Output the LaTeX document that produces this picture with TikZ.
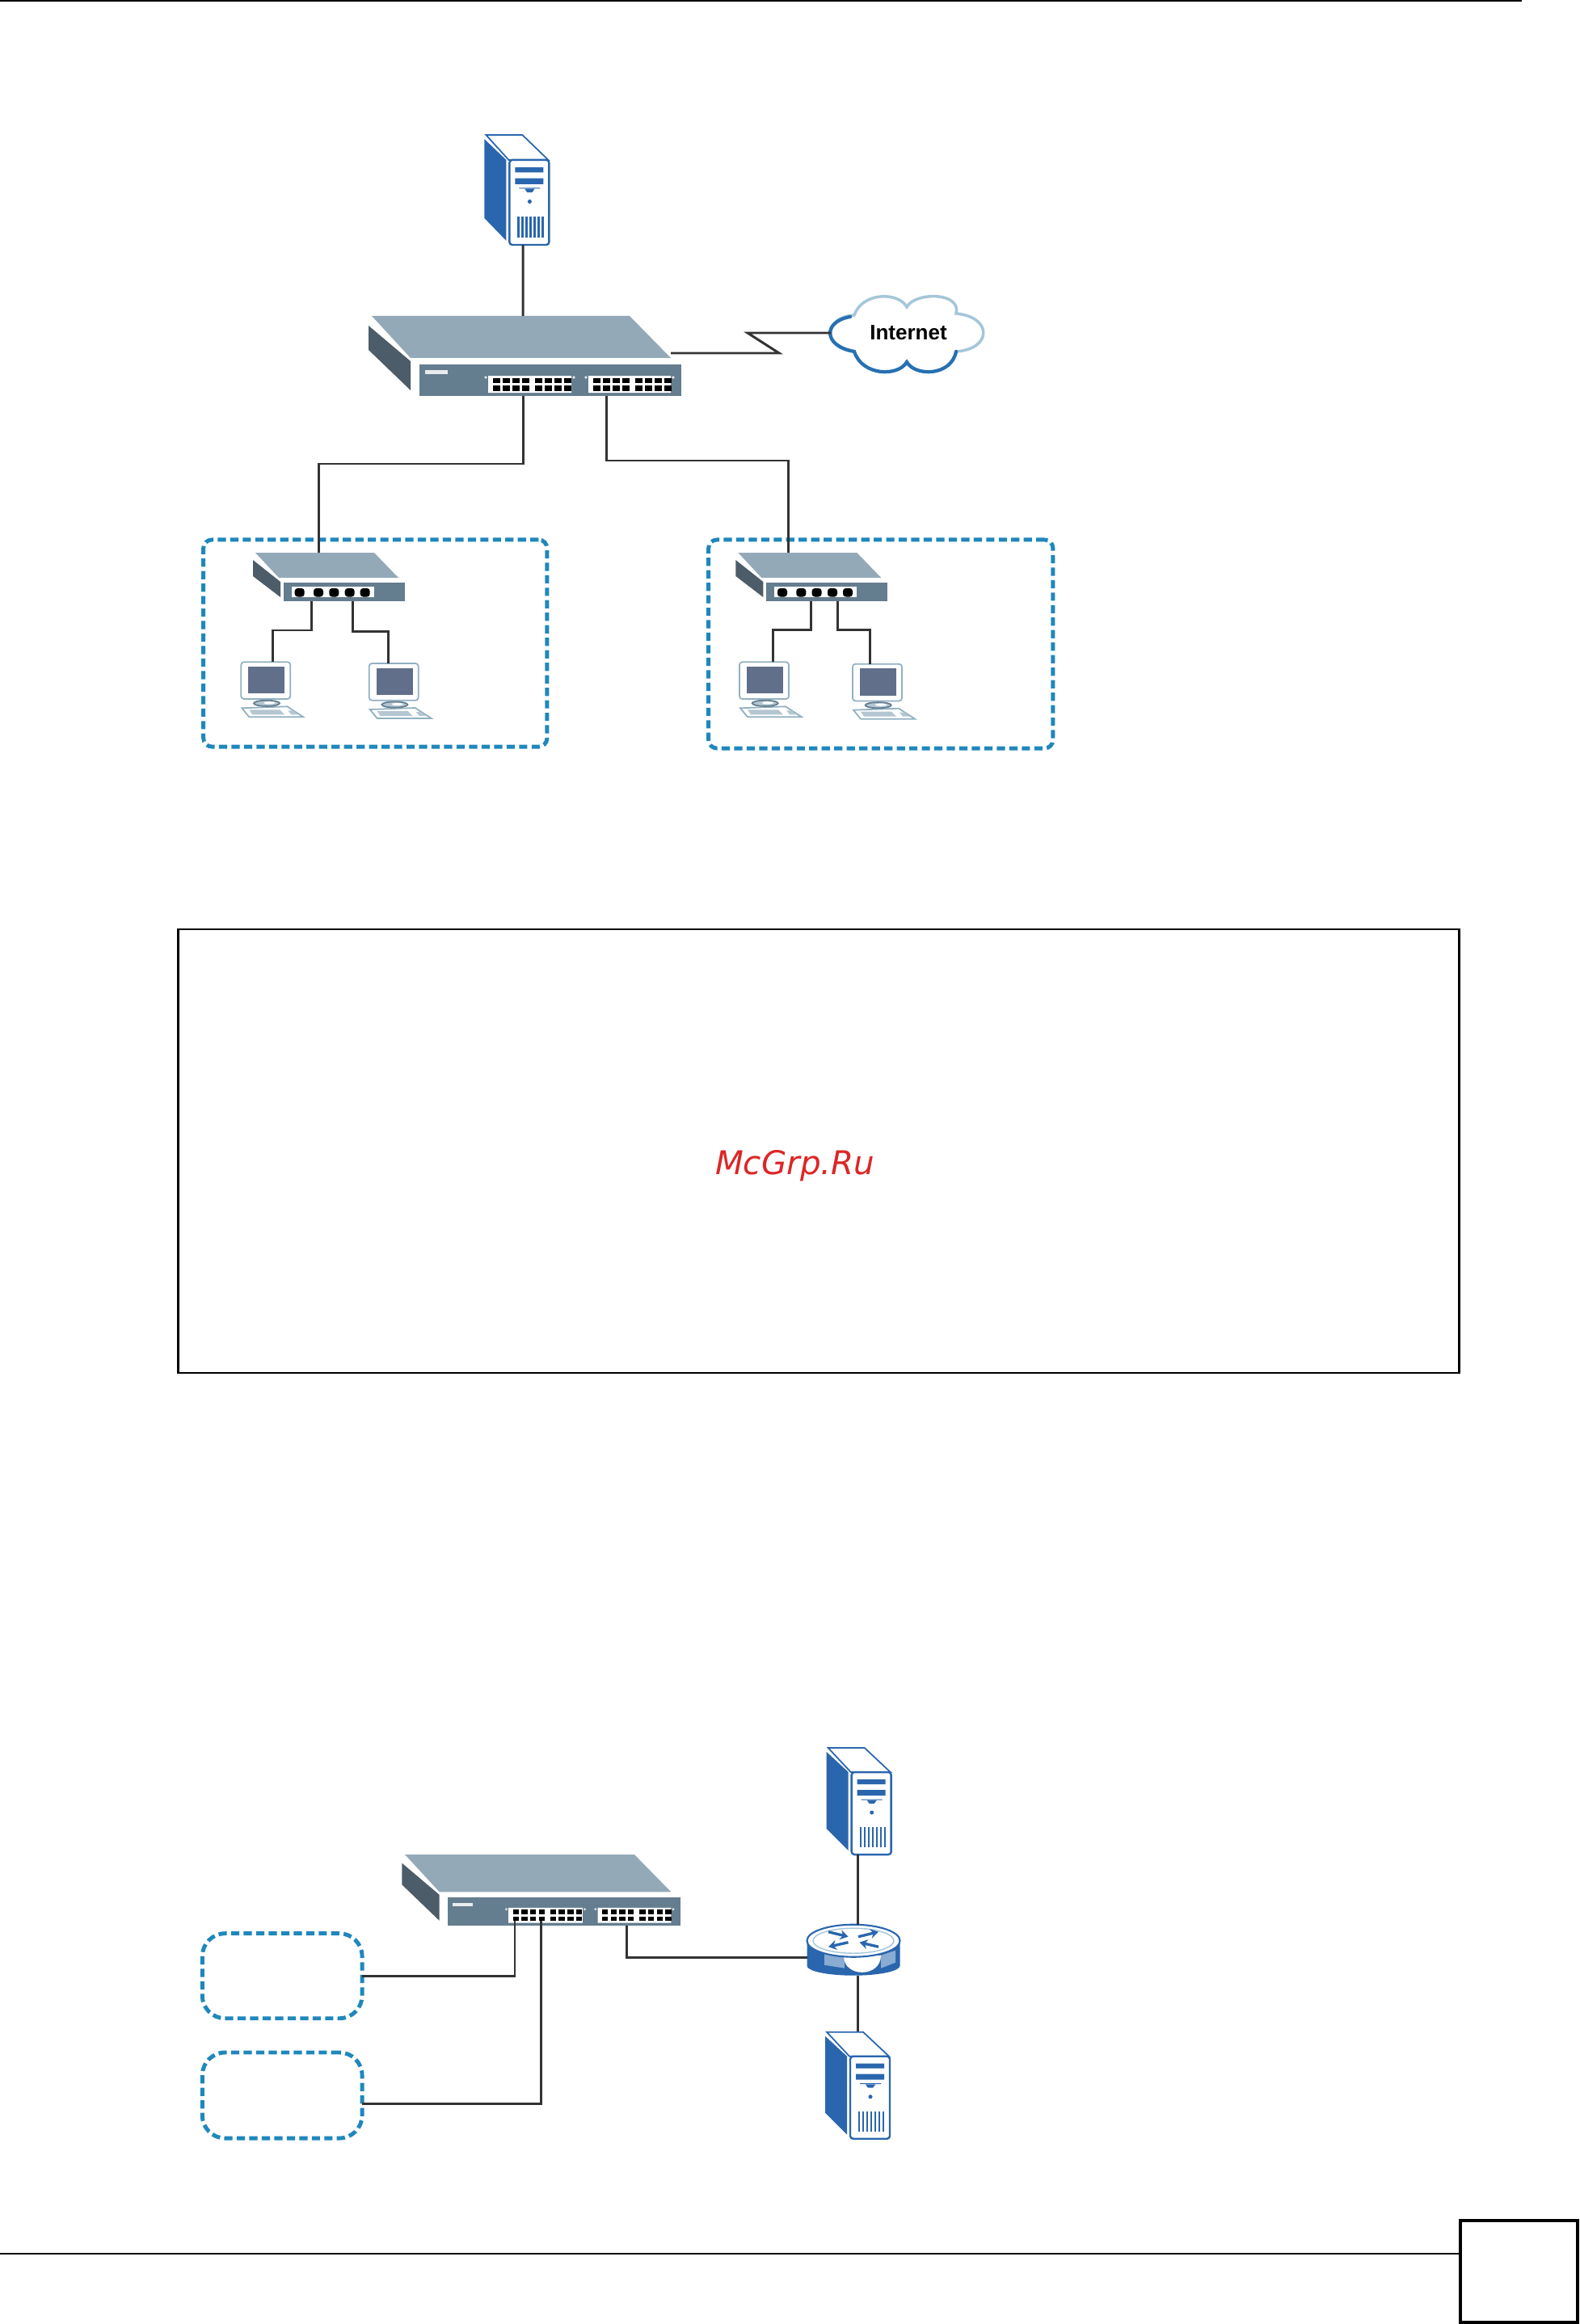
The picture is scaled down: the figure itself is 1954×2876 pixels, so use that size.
\documentclass[tikz,border=0pt]{standalone}
\usepackage{fontspec}
\usetikzlibrary{arrows.meta}
\newfontfamily\inetfont{Liberation Sans}
\newfontfamily\markfont{DejaVu Sans}
\definecolor{srvblue}{HTML}{2A66AE}
\definecolor{dashblue}{HTML}{1F87BC}
\definecolor{plategray}{HTML}{93A9B8}
\definecolor{sidegray}{HTML}{4C5C68}
\definecolor{frontgray}{HTML}{647D8F}
\definecolor{screengray}{HTML}{616F8A}
\definecolor{keygray}{HTML}{B4C6D2}
\definecolor{cablegray}{HTML}{333333}
\definecolor{cloudlight}{HTML}{A4C6D8}
\definecolor{markred}{HTML}{DC2626}
\begin{document}
\begin{tikzpicture}[x=0.01cm,y=-0.01cm,inner sep=0pt,outer sep=0pt,
cable/.style={draw=cablegray,line width=0.85pt},
lanbox/.style={draw=dashblue,rectangle,line width=1.4pt,dash pattern=on 2.9pt off 1.5pt},
rulebox/.style={draw=black,rectangle,line width=0.6pt},
pics/server/.style={code={
  \coordinate (-b) at (#1,0);
  \coordinate (-t) at (#1,-133);
  \fill[srvblue] (0,-127) -- (27,-102) -- (27,-5) -- (0,-32) -- cycle;
  \draw[srvblue,line width=0.5pt,fill=white] (2,-132) -- (47,-132) -- (79,-102) -- (30,-102) -- cycle;
  \draw[srvblue,line width=0.7pt,fill=white,rounded corners=1pt] (31,-102) rectangle (80,0);
  \fill[srvblue] (38,-93) rectangle (73,-87) (38,-80) rectangle (73,-73);
  \fill[srvblue] (43,-68.5) rectangle (69,-67.5) (50,-67) -- (62,-67) -- (59,-63) -- (53,-63) -- cycle;
  \fill[srvblue] (56,-52) circle [radius=2.5];
  \foreach \k in {0,...,6} {\fill[srvblue] (41+\k*5,-34) rectangle (43.2+\k*5,-9);}
}},
pics/bigsw/.style n args={5}{code={
  \coordinate (-t) at (#1,0);
  \coordinate (-a) at (#2,#5);
  \coordinate (-b) at (#3,#5);
  \coordinate (-c) at (#4,99);
  \coordinate (-e) at (370,46);
  \fill[plategray] (0,0) -- (319,0) -- (370,52) -- (48,52) -- cycle;
  \fill[sidegray] (-4,12) -- (48,56) -- (48,92) -- (-4,42) -- cycle;
  \fill[frontgray] (59,60) rectangle (383,99);
  \fill[white!85!frontgray] (66,67) rectangle (94,72);
  \fill[white] (144,74) rectangle (247,95) (268,74) rectangle (370,95);
  \foreach \c in {141,250,265,373} {\fill[white!80!frontgray] (\c,76) circle [radius=1.8];}
  \foreach \i in {0,...,7} {
    \pgfmathsetmacro{\px}{\i*12+(\i>3?4:0)}
    \foreach \o in {150,274} {
      \fill[black] (\o+\px,76.5) rectangle +(8.5,6.5);
      \fill[black] (\o+\px,86) rectangle +(8.5,6.5);
    }
  }
}},
pics/smallsw/.style n args={3}{code={
  \coordinate (-t) at (#1,0);
  \coordinate (-l) at (#2,60);
  \coordinate (-r) at (#3,60);
  \fill[plategray] (0,0) -- (147,0) -- (177,31) -- (29,31) -- cycle;
  \fill[sidegray] (-3,9) -- (31,36) -- (31,55) -- (-3,29) -- cycle;
  \fill[frontgray] (35,37) rectangle (185,60);
  \fill[white] (45,42) rectangle (147,55);
  \foreach \c in {54.7,78,97.3,116.7,135.7} {
    \fill[black,rounded corners=1pt] (\c-6,44) rectangle (\c+6,54.5);
  }
}},
pics/pcset/.style={code={
  \coordinate (-t) at (#1,0);
  \draw[cloudlight!70!frontgray,line width=0.5pt,fill=white,rounded corners=1pt] (0,0) rectangle (61,45.7);
  \fill[screengray] (9,5.7) rectangle (54,39);
  \draw[cloudlight!70!frontgray,line width=0.5pt,fill=white] (1,57) -- (57,55) -- (77,68) -- (10,68) -- cycle;
  \fill[keygray] (10,59) -- (48,59) -- (54,65) -- (14,65) -- cycle;
  \fill[keygray] (58,60) -- (65,60) -- (70,65) -- (62,65) -- cycle;
  \draw[frontgray,line width=0.5pt,fill=keygray] (31.7,51) ellipse [x radius=16,y radius=3.6];
  \fill[white] (35,50.5) ellipse [x radius=7,y radius=1.6];
}},
pics/routerdev/.style={code={
  \coordinate (-t) at (5.7,-20);
  \coordinate (-b) at (5.7,43);
  \coordinate (-w) at (-57.5,21);
  \fill[srvblue] (-57.5,0) -- (-57.5,31) arc [start angle=180,end angle=0,x radius=57.5,y radius=12] -- (57.5,0) -- cycle;
  \fill[srvblue!55!white] (-36,16) -- (-11,19) -- (-11,34) -- (-36,30) -- cycle;
  \fill[srvblue!55!white] (34,18) -- (52,12) -- (52,27) -- (34,34) -- cycle;
  \fill[white] (-12,19) .. controls (-12,46) and (34,46) .. (34,18) -- cycle;
  \draw[srvblue,line width=0.6pt,fill=white] (0,0) ellipse [x radius=57.5,y radius=20];
  \draw[cloudlight,line width=0.4pt] (0,0) ellipse [x radius=50,y radius=15.5];
  \foreach \sx/\sy/\ex/\ey in {-31/-11/-6.5/-5,-6.5/2/-31/7.5,6/-5/31/-11,31/7.5/7.5/2} {
    \draw[srvblue,line width=0.95pt,-{Stealth[length=2.8pt,width=3.4pt]}] (\sx,\sy) -- (\ex,\ey);
  }
}},
pics/inetcloud/.style={code={
  \coordinate (-w) at (-94,0);
  \draw[cloudlight,line width=1pt,fill=white] (-65,23) .. controls (-104,20) and (-104,-20) .. (-65,-22)
    .. controls (-55,-51) and (-10,-51) .. (0,-32) .. controls (10,-51) and (68,-51) .. (61,-24)
    .. controls (106,-20) and (106,20) .. (61,23) .. controls (55,54) and (10,54) .. (0,36)
    .. controls (-10,54) and (-55,54) .. (-65,23) -- cycle;
  \draw[srvblue!70!dashblue,line width=1.2pt,line cap=round] (-70,-20) .. controls (-104,-14) and (-104,16) .. (-65,23)
    .. controls (-55,54) and (-10,54) .. (0,36) .. controls (10,54) and (55,54) .. (61,23);
}}]
\useasboundingbox (0,0) rectangle (1954,2876);
%upper network
\node[lanbox,rounded corners=3pt,minimum width=4.25cm,minimum height=2.56cm] (lanA) at (464.3,796) {};
\node[lanbox,rounded corners=3pt,minimum width=4.26cm,minimum height=2.58cm] (lanB) at (1089.8,797) {};
\pic[yscale=1.03] (srvA) at (599.4,303) {server=47.6};
\pic (swA) at (460,391) {bigsw={187}{187}{290.5}{0}{99}};
\pic (inet) at (1122,412) {inetcloud};
\node[font=\inetfont\bfseries\fontsize{7.4pt}{9pt}\selectfont] (inetlabel) at (1124,412) {Internet};
\pic (ssA) at (316,684) {smallsw={78}{69.7}{120.7}};
\pic (ssB) at (913.3,684) {smallsw={61.7}{90}{123.4}};
\pic (pcA) at (298.3,819.3) {pcset=39};
\pic (pcB) at (456.7,821) {pcset=24};
\pic (pcC) at (915,819.3) {pcset=41.7};
\pic (pcD) at (1055,821.7) {pcset=21.7};
\coordinate (trunkA) at (0,574);
\coordinate (trunkB) at (0,570);
\coordinate (kinkA) at (964,437);
\coordinate (kinkB) at (925,412);
\coordinate (tapA) at (0,780);
\coordinate (tapB) at (0,781.7);
\coordinate (tapC) at (0,779.3);
\draw[cable] (srvA-b) -- (swA-t);
\draw[cable] (swA-e) -- (kinkA) -- (kinkB) -- (inet-w);
\draw[cable] (swA-a) -- (swA-a |- trunkA) -- (ssA-t |- trunkA) -- (ssA-t);
\draw[cable] (swA-b) -- (swA-b |- trunkB) -- (ssB-t |- trunkB) -- (ssB-t);
\draw[cable] (ssA-l) -- (ssA-l |- tapA) -- (pcA-t |- tapA) -- (pcA-t);
\draw[cable] (ssA-r) -- (ssA-r |- tapB) -- (pcB-t |- tapB) -- (pcB-t);
\draw[cable] (ssB-l) -- (ssB-l |- tapC) -- (pcC-t |- tapC) -- (pcC-t);
\draw[cable] (ssB-r) -- (ssB-r |- tapC) -- (pcD-t |- tapC) -- (pcD-t);
%note box
\node[rulebox,minimum width=15.84cm,minimum height=5.49cm] (notebox) at (1013,1424.5) {};
\node[anchor=base west,text=markred,font=\markfont\itshape\fontsize{11.5pt}{13pt}\selectfont] (mark) at (885,1453) {McGrp.Ru};
%lower network
\node[lanbox,rounded corners=8pt,minimum width=1.976cm,minimum height=1.05cm] (vlanA) at (349.2,2445.2) {};
\node[lanbox,rounded corners=8pt,minimum width=1.976cm,minimum height=1.06cm] (vlanB) at (349.2,2593) {};
\pic[scale=0.89] (swB) at (501,2295) {bigsw={0}{152.8}{189}{308}{92}};
\pic (srvB) at (1022.7,2295) {server=39};
\pic (srvC) at (1021,2646.7) {server=40.7};
\pic (rtr) at (1056,2401.7) {routerdev};
\draw[cable] (vlanA.east) -| (swB-a);
\draw[cable] (vlanB.354) -| (swB-b);
\coordinate (tapD) at (0,2422.7);
\draw[cable] (swB-c) -- (swB-c |- tapD) -- (rtr-w);
\draw[cable] (srvB-b) -- (rtr-t);
\draw[cable] (rtr-b) -- (srvC-t);
%page furniture
\coordinate (headL) at (0,1);
\coordinate (headR) at (1882.7,1);
\coordinate (footL) at (0,2789);
\node[rectangle,draw=black,line width=1.15pt,minimum width=1.45cm,minimum height=1.263cm] (pagebox) at (1879.5,2810.8) {};
\draw[draw=black,line width=0.7pt] (headL) -- (headR);
\draw[draw=black,line width=0.45pt] (footL) -- (footL -| pagebox.west);
\end{tikzpicture}
\end{document}
